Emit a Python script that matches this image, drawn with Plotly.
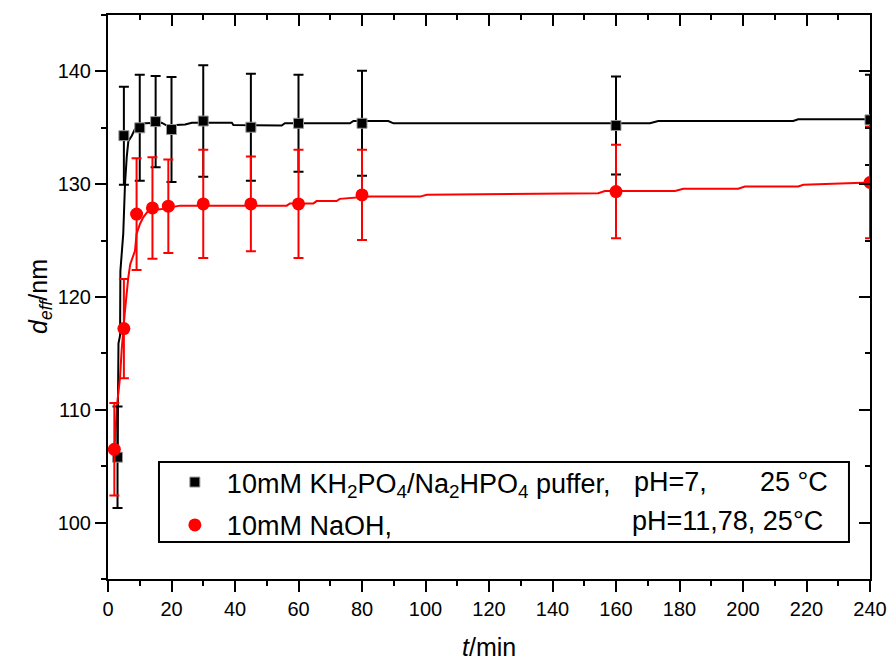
import plotly.graph_objects as go

# ---- data ----
black_t = [3, 5, 10, 15, 20, 30, 45, 60, 80, 160, 240]
black_d = [105.8, 134.3, 135.0, 135.55, 134.85, 135.6, 135.05, 135.4, 135.4, 135.2, 135.7]
black_err = [4.5, 4.35, 4.7, 4.05, 4.65, 4.95, 4.75, 4.3, 4.65, 4.35, 4.0]

red_t = [2, 5, 9, 14, 19, 30, 45, 60, 80, 160, 240]
red_d = [106.5, 117.2, 127.35, 127.9, 128.05, 128.25, 128.25, 128.25, 129.05, 129.35, 130.15]
red_err = [4.1, 4.4, 4.95, 4.5, 4.15, 4.8, 4.2, 4.8, 4.0, 4.15, 4.95]

black_fit_t = [3, 3.05, 3.3, 3.8, 3.9, 4.8, 5.35, 5.9, 6.4, 7.5, 8.5, 10, 11.7, 16.9, 18.5,
               24.3, 26.4, 39, 39.5, 54.7, 55.7, 76.2, 77.3, 88.3, 89.9, 170.7, 173.3,
               215.8, 217.4, 240]
black_fit_d = [105.8, 110.3, 115.9, 116.6, 122.3, 125.6, 130.0, 132.4, 133.8, 134.3, 134.9,
               135.2, 135.4, 135.45, 135.2, 135.3, 135.45, 135.45, 135.25, 135.2, 135.4,
               135.4, 135.6, 135.6, 135.4, 135.4, 135.6, 135.6, 135.75, 135.75]

red_fit_t = [2, 2.9, 3.8, 4.3, 5.35, 5.9, 6.4, 7, 8.5, 9, 10.1, 11.1, 12.7, 16.9, 22.7, 56.3,
             57.3, 64.7, 65.7, 72, 73, 82.5, 98.3, 100.4, 154.4, 156.5, 178.6, 181.2,
             198.5, 200.6, 217.4, 219, 240]
red_fit_d = [106.5, 110.6, 112.9, 115.3, 118.8, 120.6, 121.75, 122.9, 124.1, 125.6, 126.5,
             127.06, 127.65, 127.8, 128.1, 128.1, 128.3, 128.3, 128.5, 128.5, 128.7, 128.9,
             128.9, 129.06, 129.2, 129.4, 129.4, 129.6, 129.6, 129.8, 129.8, 129.95, 130.15]

x_range = [0, 240]
y_range = [95, 145]
x_ticks = [0, 20, 40, 60, 80, 100, 120, 140, 160, 180, 200, 220, 240]
y_ticks = [100, 110, 120, 130, 140]

legend_black = "10mM KH<sub>2</sub>PO<sub>4</sub>/Na<sub>2</sub>HPO<sub>4</sub> puffer,"
legend_red = "10mM NaOH,"

FONT = "Arial, Liberation Sans, sans-serif"
LEG_SIZE = 27

fig = go.Figure()

fig.add_trace(go.Scatter(x=black_fit_t, y=black_fit_d, mode="lines",
                         line=dict(color="black", width=2), showlegend=False,
                         hoverinfo="skip"))
fig.add_trace(go.Scatter(x=red_fit_t, y=red_fit_d, mode="lines",
                         line=dict(color="#ff0000", width=2), showlegend=False,
                         hoverinfo="skip"))

fig.add_trace(go.Scatter(
    x=black_t, y=black_d, mode="markers", name=legend_black, legend="legend",
    marker=dict(symbol="square", size=10, color="black", line=dict(color="#9a9a9a", width=1)),
    error_y=dict(type="data", array=black_err, visible=True, color="black",
                 thickness=2, width=5)))
fig.add_trace(go.Scatter(
    x=red_t, y=red_d, mode="markers", name=legend_red, legend="legend2",
    marker=dict(symbol="circle", size=13, color="#ff0000", line=dict(width=0)),
    error_y=dict(type="data", array=red_err, visible=True, color="#ff0000",
                 thickness=2, width=5)))

# empty traces to carry mirrored (inward) tick axes
fig.add_trace(go.Scatter(x=[], y=[], xaxis="x2", yaxis="y", showlegend=False))
fig.add_trace(go.Scatter(x=[], y=[], xaxis="x", yaxis="y2", showlegend=False))

axis_common = dict(showline=True, linecolor="black", linewidth=2, showgrid=False,
                   zeroline=False, tickcolor="black", tickwidth=2, automargin=False)

fig.update_layout(
    width=890, height=662,
    margin=dict(l=108, r=20, t=15, b=83),
    paper_bgcolor="white", plot_bgcolor="white",
    font=dict(family=FONT, color="black"),
    xaxis=dict(range=x_range, tickvals=x_ticks, ticks="outside", ticklen=11,
               tickfont=dict(size=20, family=FONT),
               minor=dict(dtick=10, ticks="outside", ticklen=5, tickcolor="black", tickwidth=2),
               **axis_common),
    yaxis=dict(range=y_range, tickvals=y_ticks, ticks="outside", ticklen=11,
               tickfont=dict(size=20, family=FONT),
               minor=dict(dtick=5, ticks="outside", ticklen=5, tickcolor="black", tickwidth=2),
               **axis_common),
    xaxis2=dict(range=x_range, overlaying="x", side="top", anchor="y",
                tickvals=x_ticks, ticks="inside", ticklen=11, showticklabels=False,
                minor=dict(dtick=10, ticks="inside", ticklen=5, tickcolor="black", tickwidth=2),
                **axis_common),
    yaxis2=dict(range=y_range, overlaying="y", side="right", anchor="x",
                tickvals=y_ticks, ticks="inside", ticklen=11, showticklabels=False,
                minor=dict(dtick=5, ticks="inside", ticklen=5, tickcolor="black", tickwidth=2),
                **axis_common),
    legend=dict(x=0.072, y=0.2145, xanchor="left", yanchor="top",
                bgcolor="rgba(0,0,0,0)", borderwidth=0, itemwidth=54,
                font=dict(size=LEG_SIZE, family=FONT)),
    legend2=dict(x=0.072, y=0.1385, xanchor="left", yanchor="top",
                 bgcolor="rgba(0,0,0,0)", borderwidth=0, itemwidth=54,
                 font=dict(size=LEG_SIZE, family=FONT)),
    shapes=[dict(type="rect", xref="paper", yref="paper",
                 x0=0.0669, x1=0.9724, y0=0.0656, y1=0.2073,
                 line=dict(color="black", width=2), fillcolor="rgba(0,0,0,0)")],
    annotations=[
        dict(text="pH=7,", xref="paper", yref="paper", x=(632 - 108) / 762,
             y=(579 - 482) / 564, xanchor="left", yanchor="middle", showarrow=False,
             font=dict(size=LEG_SIZE, family=FONT)),
        dict(text="25 °C", xref="paper", yref="paper", x=(758 - 108) / 762,
             y=(579 - 482) / 564, xanchor="left", yanchor="middle", showarrow=False,
             font=dict(size=LEG_SIZE, family=FONT)),
        dict(text="pH=11,78, 25°C", xref="paper", yref="paper", x=(825 - 108) / 762,
             y=(579 - 521) / 564, xanchor="right", yanchor="middle", showarrow=False,
             font=dict(size=LEG_SIZE, family=FONT)),
        dict(text="<i>d</i><sub><i>eff</i></sub>/nm", xref="paper", yref="paper",
             x=(40 - 108) / 762, y=(579 - 297) / 564, xanchor="center", yanchor="middle",
             textangle=-90, showarrow=False, font=dict(size=25, family=FONT)),
        dict(text="<i>t</i>/min", xref="paper", yref="paper",
             x=(489 - 108) / 762, y=(579 - 647) / 564, xanchor="center", yanchor="middle",
             showarrow=False, font=dict(size=25, family=FONT)),
    ],
)

fig.write_html("out.html", config={"displayModeBar": False},
               post_script="document.body.style.margin='0';")
